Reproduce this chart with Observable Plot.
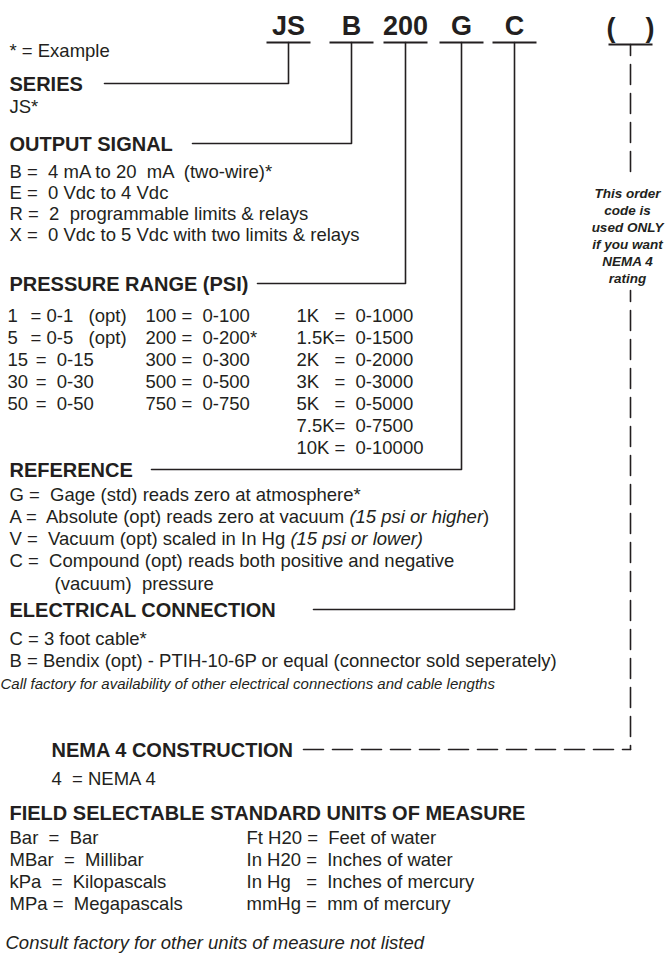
<!DOCTYPE html>
<html><head><meta charset="utf-8">
<script src="https://cdn.jsdelivr.net/npm/d3@7"></script>
<script src="https://cdn.jsdelivr.net/npm/@observablehq/plot@0.6"></script>
<style>
html,body{margin:0;padding:0;background:#fff;}
svg text{white-space:pre;}
g[aria-label="head"] text{letter-spacing:-0.4px;word-spacing:-3px;}
g[aria-label="small"] text{letter-spacing:-0.2px;word-spacing:-3px;}
g[aria-label="note"] text{letter-spacing:-0.4px;word-spacing:-2px;}
</style></head><body><div id="chart"></div>
<script>
// ---------- data ----------
const orderCodes = ["JS", "B", "200", "G", "C", "(    )"];
const exampleNote = "* = Example";
const sectionTitles = ["SERIES", "OUTPUT SIGNAL", "PRESSURE RANGE (PSI)", "REFERENCE", "ELECTRICAL CONNECTION", "NEMA 4 CONSTRUCTION", "FIELD SELECTABLE STANDARD UNITS OF MEASURE"];
const seriesLines = ["JS*"];
const outputLines = [
  "B =  4 mA to 20  mA  (two-wire)*",
  "E =  0 Vdc to 4 Vdc",
  "R =  2  programmable limits & relays",
  "X =  0 Vdc to 5 Vdc with two limits & relays"
];
const rangeCodes1 = ["1", "5", "15", "30", "50"];
const rangeValues1 = ["= 0-1   (opt)", "= 0-5   (opt)", " =  0-15", " =  0-30", " =  0-50"];
const rangeCodes2 = ["100", "200", "300", "500", "750"];
const rangeValues2 = ["=  0-100", "=  0-200*", "=  0-300", "=  0-500", "=  0-750"];
const rangeCodes3 = ["1K", "1.5K", "2K", "3K", "5K", "7.5K", "10K"];
const rangeValues3 = ["=  0-1000", "=  0-1500", "=  0-2000", "=  0-3000", "=  0-5000", "=  0-7500", "=  0-10000"];
const referenceLines = [
  "G =  Gage (std) reads zero at atmosphere*",
  "A =  Absolute (opt) reads zero at vacuum {(15 psi or higher})",
  "V =  Vacuum (opt) scaled in In Hg {(15 psi or lower)}",
  "C =  Compound (opt) reads both positive and negative"
];
const referenceContinuation = "(vacuum)  pressure";
const electricalLines = ["C = 3 foot cable*", "B = Bendix (opt) - PTIH-10-6P or equal (connector sold seperately)"];
const electricalNote = "Call factory for availability of other electrical connections and cable lengths";
const nemaLines = ["4  = NEMA 4"];
const unitsLeft = ["Bar  =  Bar", "MBar  =  Millibar", "kPa  =  Kilopascals", "MPa =  Megapascals"];
const unitsRight = ["Ft H20 =  Feet of water", "In H20 =  Inches of water", "In Hg   =  Inches of mercury", "mmHg =  mm of mercury"];
const unitsNote = "Consult factory for other units of measure not listed";
const nemaNote = ["This order", "code is", "used ONLY", "if you want", "NEMA 4", "rating"];

// ---------- layout ----------
const W = 665, H = 957;
const INK = "#231f20";
const codeX = [288, 351, 405, 461, 514, 630];
const codeBase = [34, 34, 34, 34, 34, 36];
const underY = [42, 42, 42, 42, 42, 44];
const left = 9;
const Y = {
  example: 56,
  heads: [90, 150, 290, 476, 616, 756, 819],
  series: [112],
  output: [177, 198, 219, 240],
  rows: [321, 343, 365, 387, 409, 431, 453],
  reference: [500, 522, 544, 566, 589],
  electrical: [644, 666], call: 688,
  nema: [784],
  units: [843, 865, 887, 909], consult: 948,
  noteTop: 186, gapTop: 178, gapBottom: 290
};
const noteX = 627;
const headX = [left, left, left, left, left, 51, left];
const connectorStart = [104, 192, 257, 151, 313, 303];

// text items
const body = [], heads = [], codes = [];
orderCodes.forEach((t, i) => codes.push({x: codeX[i], y: codeBase[i], t}));
sectionTitles.forEach((t, i) => heads.push({x: headX[i], y: Y.heads[i], t}));
body.push({x: left, y: Y.example, t: exampleNote});
seriesLines.forEach((t, i) => body.push({x: left, y: Y.series[i], t}));
outputLines.forEach((t, i) => body.push({x: left, y: Y.output[i], t}));
rangeCodes1.forEach((t, i) => { body.push({x: 7, y: Y.rows[i], t}); body.push({x: 30, y: Y.rows[i], t: rangeValues1[i]}); });
rangeCodes2.forEach((t, i) => { body.push({x: 145, y: Y.rows[i], t}); body.push({x: 181, y: Y.rows[i], t: rangeValues2[i]}); });
rangeCodes3.forEach((t, i) => { body.push({x: 296, y: Y.rows[i], t}); body.push({x: 334, y: Y.rows[i], t: rangeValues3[i]}); });
referenceLines.forEach((t, i) => body.push({x: left, y: Y.reference[i], t}));
body.push({x: 54, y: Y.reference[4], t: referenceContinuation});
electricalLines.forEach((t, i) => body.push({x: left, y: Y.electrical[i], t}));
nemaLines.forEach((t, i) => body.push({x: 51, y: Y.nema[i], t}));
unitsLeft.forEach((t, i) => body.push({x: left, y: Y.units[i], t}));
unitsRight.forEach((t, i) => body.push({x: 246, y: Y.units[i], t}));

// connector paths
const paths = [];
for (let i = 0; i < 5; i++) {
  const hy = Y.heads[i] - 7;
  paths.push({id: i, x: connectorStart[i], y: hy});
  paths.push({id: i, x: codeX[i], y: hy});
  paths.push({id: i, x: codeX[i], y: underY[i]});
}
const nemaY = Y.heads[5] - 7;
const dashedV = [
  {id: "a", x: codeX[5], y: underY[5]}, {id: "a", x: codeX[5], y: Y.gapTop},
  {id: "b", x: codeX[5], y: Y.gapBottom}, {id: "b", x: codeX[5], y: nemaY}
];
const dashedH = [{id: "c", x: connectorStart[5], y: nemaY}, {id: "c", x: codeX[5], y: nemaY}];
const unders = orderCodes.map((t, i) => ({x1: codeX[i] - 22, x2: codeX[i] + 22, y: underY[i]}));
const FONT = "Liberation Sans, Arial, Helvetica, sans-serif";

const chart = Plot.plot({
  width: W, height: H, margin: 0,
  style: {fontFamily: FONT, background: "#fff", color: INK},
  x: {domain: [0, W], range: [0, W], axis: null},
  y: {domain: [0, H], range: [0, H], axis: null},
  marks: [
    Plot.link(unders, {x1: "x1", x2: "x2", y1: "y", y2: "y", stroke: INK, strokeWidth: 2}),
    Plot.line(paths, {x: "x", y: "y", z: "id", stroke: INK, strokeWidth: 1.6, curve: "linear"}),
    Plot.line(dashedV, {x: "x", y: "y", z: "id", stroke: INK, strokeWidth: 1.6, strokeDasharray: "20,9", strokeDashoffset: 9, curve: "linear"}),
    Plot.line(dashedH, {x: "x", y: "y", z: "id", stroke: INK, strokeWidth: 1.6, strokeDasharray: "20,9", curve: "linear"}),
    Plot.text(codes, {x: "x", y: "y", text: "t", textAnchor: "middle", lineAnchor: "bottom", fontSize: 27, fontWeight: "bold", fill: INK, ariaLabel: "code"}),
    Plot.text(heads, {x: "x", y: "y", text: "t", textAnchor: "start", lineAnchor: "bottom", fontSize: 20, fontWeight: "bold", fill: INK, ariaLabel: "head"}),
    Plot.text(body, {x: "x", y: "y", text: "t", textAnchor: "start", lineAnchor: "bottom", fontSize: 18.5, fill: INK, ariaLabel: "body"}),
    Plot.text([electricalNote], {x: () => 0, y: () => Y.call, text: d => d, textAnchor: "start", lineAnchor: "bottom", fontSize: 15, fontStyle: "italic", fill: INK, ariaLabel: "small"}),
    Plot.text([unitsNote], {x: () => 5, y: () => Y.consult, text: d => d, textAnchor: "start", lineAnchor: "bottom", fontSize: 18.5, fontStyle: "italic", fill: INK, ariaLabel: "consult"}),
    Plot.text([nemaNote.join("\n")], {x: () => noteX, y: () => Y.noteTop, text: d => d, textAnchor: "middle", lineAnchor: "top", lineHeight: 1.25, fontSize: 13.5, fontWeight: "bold", fontStyle: "italic", fill: INK, ariaLabel: "note"})
  ]
});

// italic fragments marked with { }
d3.select(chart).selectAll("text").each(function () {
  const s = this.textContent;
  if (!s.includes("{")) return;
  const parts = s.split(/(\{[^}]*\})/).filter(p => p.length);
  this.textContent = "";
  for (const p of parts) {
    const ts = document.createElementNS("http://www.w3.org/2000/svg", "tspan");
    if (p.startsWith("{")) { ts.textContent = p.slice(1, -1); ts.setAttribute("font-style", "italic"); }
    else ts.textContent = p;
    this.appendChild(ts);
  }
});
document.getElementById("chart").appendChild(chart);
</script></body></html>
